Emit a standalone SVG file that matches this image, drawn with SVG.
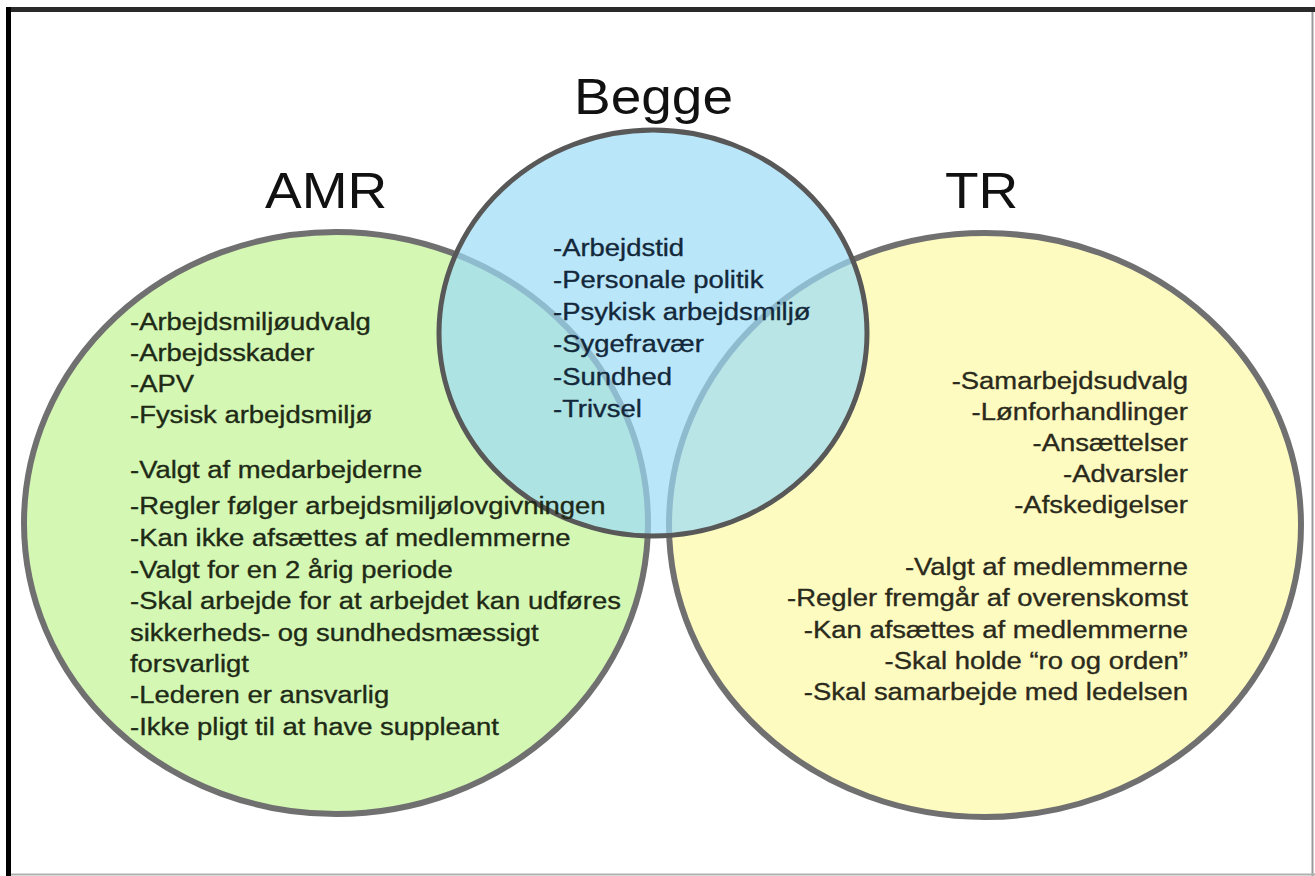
<svg xmlns="http://www.w3.org/2000/svg" width="1315" height="876" viewBox="0 0 1315 876">
  <defs>
    <filter id="soft" x="-5%" y="-5%" width="110%" height="110%">
      <feGaussianBlur stdDeviation="0.7"/>
    </filter>
  </defs>
  <style>
    .ring { stroke: #707070; stroke-width: 6; }
    .title { font-family: "Liberation Sans", Arial, sans-serif; font-size: 50px; fill: #111111; }
    .body { font-family: "Liberation Sans", Arial, sans-serif; font-size: 24.5px; stroke-width: 0.35px; }
    .amrtxt { fill: #1e2a16; stroke: #1e2a16; }
    .trtxt { fill: #2a2a1c; stroke: #2a2a1c; text-anchor: end; }
    .begtxt { fill: #13283a; stroke: #13283a; }
  </style>

  <rect x="0" y="0" width="1315" height="876" fill="#ffffff"/>

  <!-- frame -->
  <g id="frame">
    <line x1="1312.5" y1="9" x2="1312.5" y2="876" stroke="#9a9a9a" stroke-width="2"/>
    <line x1="8" y1="874.5" x2="1315" y2="874.5" stroke="#b0b0b0" stroke-width="2"/>
    <line x1="6" y1="9.5" x2="1315" y2="9.5" stroke="#2a2a2a" stroke-width="5"/>
    <line x1="8.5" y1="7" x2="8.5" y2="876" stroke="#000000" stroke-width="5"/>
  </g>

  <!-- circles -->
  <g id="amr" filter="url(#soft)">
    <ellipse cx="336" cy="523" rx="312" ry="291" fill="#d4f7b4" class="ring"/>
  </g>
  <g id="tr" filter="url(#soft)">
    <ellipse cx="985" cy="525" rx="316" ry="292" fill="#fefbc0" class="ring"/>
  </g>
  <g id="begge" filter="url(#soft)">
    <ellipse cx="653" cy="333" rx="214" ry="203" fill="#9cdcf7" fill-opacity="0.7"/>
    <ellipse cx="653" cy="333" rx="214" ry="203" fill="none" stroke="#585858" stroke-width="5"/>
  </g>

  <!-- titles -->
  <g id="titles">
    <text class="title" transform="translate(265 208) scale(1.1 1)" x="0" y="0">AMR</text>
    <text class="title" transform="translate(574 114) scale(1.1 1)" x="0" y="0">Begge</text>
    <text class="title" transform="translate(945 208) scale(1.1 1)" x="0" y="0">TR</text>
  </g>

  <!-- AMR text -->
  <g id="amr-text" class="body amrtxt" transform="translate(130 0) scale(1.12 1)">
    <text x="0" y="330">-Arbejdsmiljøudvalg</text>
    <text x="0" y="361">-Arbejdsskader</text>
    <text x="0" y="392">-APV</text>
    <text x="0" y="423">-Fysisk arbejdsmiljø</text>
    <text x="0" y="478">-Valgt af medarbejderne</text>
    <text x="0" y="514">-Regler følger arbejdsmiljølovgivningen</text>
    <text x="0" y="546">-Kan ikke afsættes af medlemmerne</text>
    <text x="0" y="578">-Valgt for en 2 årig periode</text>
    <text x="0" y="609">-Skal arbejde for at arbejdet kan udføres</text>
    <text x="0" y="641">sikkerheds- og sundhedsmæssigt</text>
    <text x="0" y="672">forsvarligt</text>
    <text x="0" y="703">-Lederen er ansvarlig</text>
    <text x="0" y="735">-Ikke pligt til at have suppleant</text>
  </g>

  <!-- Begge text -->
  <g id="begge-text" class="body begtxt" transform="translate(553 0) scale(1.12 1)">
    <text x="0" y="256">-Arbejdstid</text>
    <text x="0" y="288">-Personale politik</text>
    <text x="0" y="320">-Psykisk arbejdsmiljø</text>
    <text x="0" y="352">-Sygefravær</text>
    <text x="0" y="385">-Sundhed</text>
    <text x="0" y="417">-Trivsel</text>
  </g>

  <!-- TR text -->
  <g id="tr-text" class="body trtxt" transform="translate(1188 0) scale(1.12 1)">
    <text x="0" y="389">-Samarbejdsudvalg</text>
    <text x="0" y="420">-Lønforhandlinger</text>
    <text x="0" y="451">-Ansættelser</text>
    <text x="0" y="482">-Advarsler</text>
    <text x="0" y="513">-Afskedigelser</text>
    <text x="0" y="575">-Valgt af medlemmerne</text>
    <text x="0" y="606">-Regler fremgår af overenskomst</text>
    <text x="0" y="638">-Kan afsættes af medlemmerne</text>
    <text x="0" y="669">-Skal holde “ro og orden”</text>
    <text x="0" y="700">-Skal samarbejde med ledelsen</text>
  </g>
</svg>
